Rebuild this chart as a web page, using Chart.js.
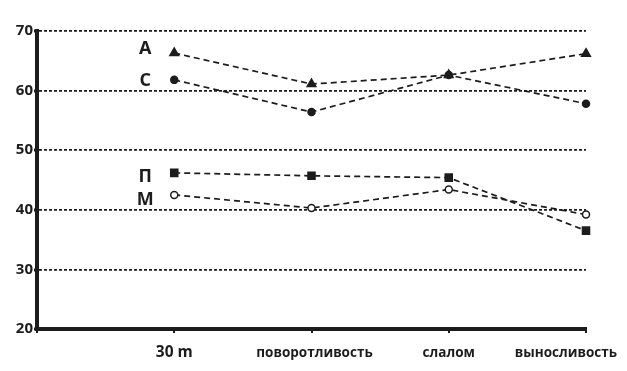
<!DOCTYPE html>
<html>
<head>
<meta charset="utf-8">
<script src="https://cdn.jsdelivr.net/npm/chart.js@4"></script>
<style>
  html, body { margin: 0; padding: 0; background: #fff; }
  #wrap { width: 627px; height: 371px; }
</style>
</head>
<body>
<div id="wrap"><canvas id="chart" width="627" height="371"></canvas></div>
<script>
const categories = ["30 m", "поворотливость", "слалом", "выносливость"];
const seriesNames = ["А", "С", "П", "М"];
const valuesA = [66.3, 61.1, 62.6, 66.2];
const valuesC = [61.8, 56.4, 62.6, 57.8];
const valuesP = [46.2, 45.7, 45.4, 36.5];
const valuesM = [42.5, 40.3, 43.4, 39.2];
const yTicks = [20, 30, 40, 50, 60, 70];

const ink = "#1c1c1c";
const font = "'Open Sans', 'DejaVu Sans', sans-serif";

function toPoints(vals) {
    return vals.map((v, i) => ({ x: i, y: v }));
}

function series(label, vals, style, fill, radius) {
    return {
        label,
        data: toPoints(vals),
        borderColor: ink,
        borderWidth: 1.7,
        borderDash: [6, 4],
        pointStyle: style,
        pointRadius: radius,
        pointBorderWidth: 1.5,
        pointBorderColor: ink,
        pointBackgroundColor: fill,
        clip: false,
        tension: 0,
    };
}

// series names left of the first point, and category labels under the axis
const labelShift = [-4, 1, 4, 5];
const textPlugin = {
    id: "textPlugin",
    afterDatasetsDraw(chart) {
        const ctx = chart.ctx;
        ctx.save();
        ctx.fillStyle = ink;
        ctx.font = "bold 18px " + font;
        ctx.textAlign = "center";
        ctx.textBaseline = "middle";
        chart.data.datasets.forEach((ds, i) => {
            const pt = chart.getDatasetMeta(i).data[0];
            ctx.fillText(ds.label, pt.x - 29, pt.y + labelShift[i]);
        });

        const xs = chart.scales.x;
        const y = xs.bottom - 18;
        categories.forEach((c, i) => {
            ctx.font = "bold " + (i === 0 ? 15.5 : 13.5) + "px " + font;
            const w = ctx.measureText(c).width;
            let cx = xs.getPixelForValue(i) + (i === 1 ? 3 : 0);
            cx = Math.min(cx, chart.width - 10 - w / 2);
            ctx.fillText(c, cx, y);
        });
        ctx.restore();
    }
};

new Chart(document.getElementById("chart"), {
    type: "line",
    data: {
        datasets: [
            series(seriesNames[0], valuesA, "triangle", ink, 5),
            series(seriesNames[1], valuesC, "circle", ink, 3.5),
            series(seriesNames[2], valuesP, "rect", ink, 5),
            series(seriesNames[3], valuesM, "circle", "#fff", 3.5),
        ]
    },
    options: {
        responsive: false,
        animation: false,
        layout: { padding: { top: 31, right: 41, left: 0, bottom: 0 } },
        plugins: { legend: { display: false }, tooltip: { enabled: false } },
        scales: {
            x: {
                type: "linear",
                min: -1,
                max: 3,
                afterFit: (s) => { s.height = 42; },
                afterBuildTicks: (s) => { s.ticks = [-1, 0, 1, 2, 3].map(v => ({ value: v })); },
                border: { color: ink, width: 4 },
                grid: {
                    drawOnChartArea: false,
                    drawTicks: true,
                    tickLength: 4,
                    color: ink,
                    lineWidth: 2,
                },
                ticks: { display: false }
            },
            y: {
                min: 20,
                max: 70,
                afterFit: (s) => { s.width = 37; },
                afterBuildTicks: (s) => { s.ticks = yTicks.map(v => ({ value: v })); },
                border: { color: ink, width: 4, dash: [3, 2] },
                grid: {
                    color: ink,
                    lineWidth: 1.8,
                    drawTicks: true,
                    tickLength: 3,
                    tickBorderDash: [],
                    tickColor: ink,
                    tickWidth: 3,
                },
                ticks: {
                    color: ink,
                    padding: 1,
                    font: { family: font, weight: "bold", size: 15 },
                }
            }
        }
    },
    plugins: [textPlugin]
});
</script>
</body>
</html>
